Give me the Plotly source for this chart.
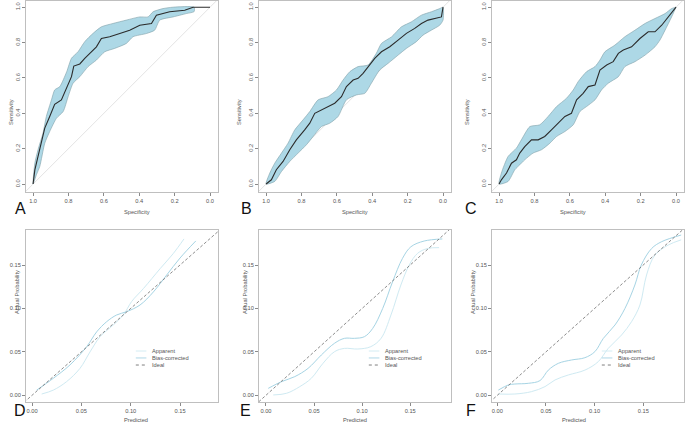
import plotly.graph_objects as go

# ---------------- ROC data (specificity, sensitivity) ----------------
rocA_spec = [1.0, 0.99, 0.972, 0.953, 0.934, 0.906, 0.878, 0.84, 0.81, 0.783, 0.77, 0.736, 0.708, 0.68, 0.642, 0.614, 0.567, 0.51, 0.454, 0.397, 0.331, 0.303, 0.228, 0.143, 0.096, 0.0]
rocA_sens = [0.0, 0.08, 0.156, 0.231, 0.316, 0.382, 0.451, 0.476, 0.547, 0.607, 0.667, 0.679, 0.711, 0.739, 0.776, 0.823, 0.833, 0.851, 0.87, 0.898, 0.908, 0.955, 0.974, 0.983, 1.0, 1.0]
bandA_up_spec = [1.0, 0.99, 0.972, 0.944, 0.925, 0.896, 0.878, 0.849, 0.81, 0.783, 0.746, 0.708, 0.661, 0.614, 0.548, 0.473, 0.397, 0.35, 0.322, 0.266, 0.209, 0.09]
bandA_up_sens = [0.0, 0.118, 0.194, 0.288, 0.382, 0.476, 0.532, 0.551, 0.635, 0.711, 0.748, 0.805, 0.852, 0.889, 0.908, 0.927, 0.945, 0.945, 0.974, 0.992, 1.0, 1.0]
bandA_lo_spec = [1.0, 0.981, 0.962, 0.934, 0.906, 0.868, 0.83, 0.802, 0.774, 0.736, 0.689, 0.642, 0.595, 0.539, 0.473, 0.435, 0.36, 0.313, 0.284, 0.209, 0.134, 0.09]
bandA_lo_sens = [0.0, 0.053, 0.1, 0.231, 0.297, 0.372, 0.41, 0.494, 0.57, 0.607, 0.664, 0.701, 0.748, 0.767, 0.795, 0.833, 0.851, 0.87, 0.927, 0.945, 0.964, 0.975]

rocB_spec = [1.0, 0.97, 0.942, 0.904, 0.866, 0.829, 0.782, 0.753, 0.725, 0.687, 0.65, 0.612, 0.574, 0.546, 0.508, 0.48, 0.452, 0.424, 0.386, 0.348, 0.301, 0.254, 0.207, 0.16, 0.122, 0.085, 0.047, 0.009, 0.0]
rocB_sens = [0.0, 0.024, 0.081, 0.128, 0.194, 0.25, 0.306, 0.344, 0.4, 0.419, 0.438, 0.457, 0.494, 0.551, 0.588, 0.598, 0.626, 0.664, 0.711, 0.748, 0.776, 0.814, 0.852, 0.88, 0.908, 0.927, 0.936, 0.945, 1.0]
bandB_up_spec = [1.0, 0.979, 0.951, 0.913, 0.876, 0.838, 0.791, 0.753, 0.706, 0.65, 0.602, 0.565, 0.527, 0.48, 0.424, 0.377, 0.348, 0.29, 0.235, 0.179, 0.122, 0.066, 0.019, 0.0]
bandB_up_sens = [0.0, 0.062, 0.118, 0.175, 0.231, 0.306, 0.363, 0.41, 0.476, 0.494, 0.532, 0.588, 0.635, 0.664, 0.673, 0.739, 0.795, 0.833, 0.889, 0.917, 0.955, 0.974, 0.992, 1.0]
bandB_lo_spec = [1.0, 0.951, 0.913, 0.866, 0.819, 0.772, 0.734, 0.687, 0.64, 0.593, 0.546, 0.489, 0.442, 0.405, 0.358, 0.311, 0.254, 0.207, 0.151, 0.113, 0.066, 0.019, 0.0]
bandB_lo_sens = [0.0, 0.015, 0.071, 0.128, 0.175, 0.222, 0.269, 0.325, 0.344, 0.382, 0.476, 0.504, 0.513, 0.57, 0.645, 0.682, 0.729, 0.767, 0.805, 0.842, 0.87, 0.898, 0.927]

rocC_spec = [1.0, 0.987, 0.958, 0.93, 0.902, 0.883, 0.855, 0.817, 0.779, 0.742, 0.704, 0.666, 0.628, 0.591, 0.562, 0.525, 0.496, 0.458, 0.43, 0.392, 0.355, 0.326, 0.298, 0.251, 0.204, 0.157, 0.119, 0.081, 0.043, 0.0]
rocC_sens = [0.0, 0.024, 0.062, 0.118, 0.137, 0.175, 0.212, 0.25, 0.25, 0.269, 0.306, 0.344, 0.382, 0.4, 0.476, 0.513, 0.551, 0.56, 0.645, 0.673, 0.692, 0.739, 0.758, 0.776, 0.823, 0.861, 0.861, 0.898, 0.945, 1.0]
bandC_up_spec = [1.0, 0.987, 0.949, 0.902, 0.874, 0.826, 0.77, 0.723, 0.675, 0.619, 0.581, 0.553, 0.506, 0.458, 0.43, 0.402, 0.345, 0.289, 0.232, 0.175, 0.119, 0.062, 0.025, 0.0]
bandC_up_sens = [0.0, 0.062, 0.156, 0.203, 0.25, 0.325, 0.335, 0.382, 0.438, 0.485, 0.532, 0.579, 0.635, 0.664, 0.701, 0.748, 0.786, 0.833, 0.87, 0.908, 0.936, 0.964, 0.992, 1.0]
bandC_lo_spec = [1.0, 0.949, 0.911, 0.883, 0.855, 0.808, 0.76, 0.713, 0.675, 0.628, 0.581, 0.543, 0.506, 0.458, 0.421, 0.383, 0.326, 0.289, 0.232, 0.175, 0.119, 0.091, 0.062, 0.025, 0.0]
bandC_lo_sens = [0.0, 0.015, 0.081, 0.109, 0.137, 0.175, 0.194, 0.231, 0.269, 0.297, 0.335, 0.41, 0.438, 0.476, 0.532, 0.57, 0.607, 0.664, 0.692, 0.729, 0.776, 0.814, 0.87, 0.945, 1.0]

# ---------------- Calibration data (predicted, actual) ----------------
calD_app_x = [0.0098, 0.0216, 0.035, 0.0486, 0.0588, 0.069, 0.0824, 0.0926, 0.101, 0.113, 0.13, 0.143, 0.154]
calD_app_y = [0.0015, 0.006, 0.0157, 0.031, 0.05, 0.0675, 0.081, 0.0925, 0.108, 0.123, 0.146, 0.163, 0.18]
calD_bc_x = [0.0047, 0.0216, 0.0385, 0.0554, 0.0655, 0.0757, 0.0858, 0.096, 0.1095, 0.123, 0.1365, 0.15, 0.166]
calD_bc_y = [0.006, 0.0196, 0.035, 0.056, 0.073, 0.0848, 0.0925, 0.0963, 0.104, 0.119, 0.1385, 0.158, 0.1777]

calE_app_x = [0.0076, 0.0214, 0.0352, 0.0472, 0.0593, 0.0714, 0.0817, 0.0955, 0.109, 0.1197, 0.13, 0.1403, 0.149, 0.1576, 0.168, 0.18]
calE_app_y = [0.0004, 0.0023, 0.01, 0.0196, 0.0368, 0.0503, 0.054, 0.0533, 0.056, 0.0656, 0.0925, 0.127, 0.15, 0.1634, 0.169, 0.17]
calE_bc_x = [0.0024, 0.0162, 0.03, 0.0438, 0.0576, 0.0714, 0.0817, 0.092, 0.1024, 0.111, 0.1214, 0.1317, 0.142, 0.1507, 0.1645, 0.1834]
calE_bc_y = [0.008, 0.0157, 0.0215, 0.031, 0.0464, 0.06, 0.0656, 0.0656, 0.0675, 0.077, 0.1, 0.1308, 0.1577, 0.171, 0.1776, 0.18]

calF_app_x = [0.001, 0.018, 0.035, 0.049, 0.0593, 0.073, 0.09, 0.1038, 0.114, 0.1277, 0.138, 0.1466, 0.1534, 0.162, 0.1757, 0.189]
calF_app_y = [0.0015, 0.0015, 0.0042, 0.01, 0.0177, 0.0234, 0.029, 0.0388, 0.054, 0.0694, 0.0848, 0.104, 0.1385, 0.1615, 0.173, 0.179]
calF_bc_x = [0.001, 0.0113, 0.018, 0.0318, 0.0438, 0.0524, 0.0627, 0.0764, 0.09, 0.1003, 0.109, 0.121, 0.1312, 0.1414, 0.148, 0.1586, 0.169, 0.189]
calF_bc_y = [0.006, 0.0119, 0.013, 0.0138, 0.0169, 0.029, 0.0368, 0.0407, 0.0433, 0.0503, 0.0656, 0.081, 0.1, 0.127, 0.15, 0.169, 0.1769, 0.1845]

roc_ticks = [0.0, 0.2, 0.4, 0.6, 0.8, 1.0]
roc_ticklabels = ["0.0", "0.2", "0.4", "0.6", "0.8", "1.0"]
cal_ticks = [0.0, 0.05, 0.10, 0.15]
cal_ticklabels = ["0.00", "0.05", "0.10", "0.15"]
panel_letters = ["A", "B", "C", "D", "E", "F"]
legend_labels = ["Apparent", "Bias-corrected", "Ideal"]

# ---------------- style ----------------
FONT = "Liberation Sans"
TXT = "#555555"
FRAME = "#bfbfbf"
BAND = "#add8e6"
BAND_EDGE = "#7f9fa8"
APP_COL = "#cfeaf2"
BC_COL = "#a6d4e4"
IDEAL_COL = "#707070"
W, H = 685, 429

fig = go.Figure()

roc_sets = [
    (rocA_spec, rocA_sens, bandA_up_spec, bandA_up_sens, bandA_lo_spec, bandA_lo_sens),
    (rocB_spec, rocB_sens, bandB_up_spec, bandB_up_sens, bandB_lo_spec, bandB_lo_sens),
    (rocC_spec, rocC_sens, bandC_up_spec, bandC_up_sens, bandC_lo_spec, bandC_lo_sens),
]
cal_sets = [
    (calD_app_x, calD_app_y, calD_bc_x, calD_bc_y),
    (calE_app_x, calE_app_y, calE_bc_x, calE_bc_y),
    (calF_app_x, calF_app_y, calF_bc_x, calF_bc_y),
]

# pixel frames (left, right) for columns; rows (top, bottom)
col_px = [(26, 218), (259, 451), (492, 684)]
top_row = (1, 192)
bot_row = (230, 402)
roc_xr = [1.04, -0.045]
roc_yr = [-0.045, 1.035]
cal_xr = [(-0.0061, 0.1885), (-0.0072, 0.1924), (-0.0055, 0.1919)]
cal_yr = [-0.0077, 0.1903]


def xdom(c):
    return [c[0] / W, c[1] / W]


def ydom(r):
    return [1 - r[1] / H, 1 - r[0] / H]


axis_common = dict(showline=True, mirror=True, linecolor=FRAME, linewidth=1,
                   ticks="outside", ticklen=3, tickcolor="#8a8a8a", tickwidth=0.8,
                   showgrid=False, zeroline=False,
                   tickfont=dict(family=FONT, size=5.7, color=TXT))

annotations = []
shapes = []

for i, (spec, sens, us, un, ls, ln) in enumerate(roc_sets):
    n = i + 1
    xa = "x" if n == 1 else f"x{n}"
    ya = "y" if n == 1 else f"y{n}"
    # chance diagonal
    fig.add_trace(go.Scatter(x=[1.2, -0.2], y=[-0.2, 1.2], mode="lines",
                             line=dict(color="#dcdcdc", width=0.8),
                             xaxis=xa, yaxis=ya, showlegend=False, hoverinfo="skip"))
    # CI band
    fig.add_trace(go.Scatter(x=us + ls[::-1], y=un + ln[::-1], mode="lines",
                             fill="toself", fillcolor=BAND,
                             line=dict(color=BAND_EDGE, width=0.6, shape="spline", smoothing=0.6),
                             xaxis=xa, yaxis=ya, showlegend=False, hoverinfo="skip"))
    # ROC curve
    fig.add_trace(go.Scatter(x=spec, y=sens, mode="lines",
                             line=dict(color="#2b2b2b", width=1.1),
                             xaxis=xa, yaxis=ya, showlegend=False))
    fig.layout[f"xaxis{'' if n == 1 else n}"] = dict(
        axis_common, domain=xdom(col_px[i]), range=roc_xr, anchor=ya,
        tickvals=roc_ticks, ticktext=roc_ticklabels)
    fig.layout[f"yaxis{'' if n == 1 else n}"] = dict(
        axis_common, domain=ydom(top_row), range=roc_yr, anchor=xa,
        tickvals=roc_ticks, ticktext=roc_ticklabels, tickangle=-90)
    cx = (col_px[i][0] + col_px[i][1]) / 2
    annotations.append(dict(text="Specificity", x=cx / W, y=1 - 212 / H, xref="paper", yref="paper",
                            showarrow=False, font=dict(family=FONT, size=5.7, color=TXT)))
    annotations.append(dict(text="Sensitivity", x=(col_px[i][0] - 20) / W, y=1 - 97 / H,
                            xref="paper", yref="paper", textangle=-90,
                            showarrow=False, font=dict(family=FONT, size=5.7, color=TXT)))
    annotations.append(dict(text=panel_letters[i], x=(col_px[i][0] - 13) / W, y=1 - 208 / H,
                            xref="paper", yref="paper", showarrow=False,
                            font=dict(family=FONT, size=16, color="#111111")))

for i, (ax_, ay_, bx_, by_) in enumerate(cal_sets):
    n = i + 4
    xa, ya = f"x{n}", f"y{n}"
    fig.add_trace(go.Scatter(x=ax_, y=ay_, mode="lines", name=legend_labels[0],
                             line=dict(color=APP_COL, width=1, shape="spline"),
                             xaxis=xa, yaxis=ya, showlegend=False))
    fig.add_trace(go.Scatter(x=bx_, y=by_, mode="lines", name=legend_labels[1],
                             line=dict(color=BC_COL, width=1, shape="spline"),
                             xaxis=xa, yaxis=ya, showlegend=False))
    fig.add_trace(go.Scatter(x=[-0.05, 0.25], y=[-0.05, 0.25], mode="lines", name=legend_labels[2],
                             line=dict(color=IDEAL_COL, width=0.8, dash="3px,2px"),
                             xaxis=xa, yaxis=ya, showlegend=False))
    fig.layout[f"xaxis{n}"] = dict(axis_common, domain=xdom(col_px[i]), range=list(cal_xr[i]),
                                   anchor=ya, tickvals=cal_ticks, ticktext=cal_ticklabels)
    fig.layout[f"yaxis{n}"] = dict(axis_common, domain=ydom(bot_row), range=cal_yr,
                                   anchor=xa, tickvals=cal_ticks, ticktext=cal_ticklabels)
    cx = (col_px[i][0] + col_px[i][1]) / 2
    annotations.append(dict(text="Predicted", x=cx / W, y=1 - 425 / H, xref="paper", yref="paper",
                            showarrow=False, font=dict(family=FONT, size=5.7, color=TXT)))
    annotations.append(dict(text="Actual Probability", x=(col_px[i][0] - 14) / W, y=1 - 316 / H,
                            xref="paper", yref="paper", textangle=-90,
                            showarrow=False, font=dict(family=FONT, size=5.7, color=TXT)))
    annotations.append(dict(text=panel_letters[i + 3], x=(col_px[i][0] - 14) / W, y=1 - 421 / H,
                            xref="paper", yref="paper", showarrow=False,
                            font=dict(family=FONT, size=16, color="#111111")))
    # manual legend
    leg_cols = [APP_COL, BC_COL, IDEAL_COL]
    leg_dash = ["solid", "solid", "dot"]
    leg_y = [0.2965, 0.256, 0.215]
    for k in range(3):
        shapes.append(dict(type="line", xref=f"x{n} domain", yref=f"y{n} domain",
                           x0=0.572, x1=0.627, y0=leg_y[k], y1=leg_y[k],
                           line=dict(color=leg_cols[k], width=0.9, dash=leg_dash[k])))
        annotations.append(dict(text=legend_labels[k], xref=f"x{n} domain", yref=f"y{n} domain",
                                x=0.645, y=leg_y[k], xanchor="left", yanchor="middle",
                                showarrow=False, font=dict(family=FONT, size=5.7, color=TXT)))

fig.update_layout(width=W, height=H, margin=dict(l=0, r=0, t=0, b=0),
                  paper_bgcolor="white", plot_bgcolor="white",
                  annotations=annotations, shapes=shapes, showlegend=False)

fig.write_html("out.html", config={"displayModeBar": False},
               post_script="document.body.style.margin='0';document.body.style.overflow='hidden';")
